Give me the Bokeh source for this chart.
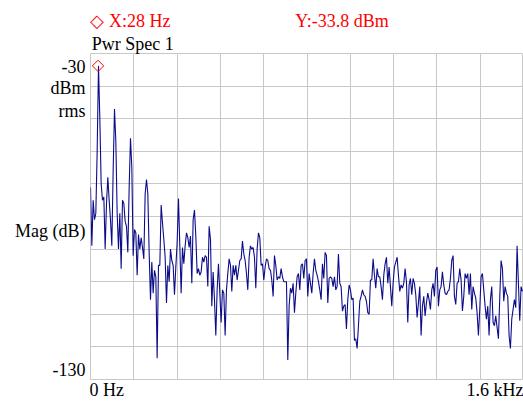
import numpy as np
from bokeh.plotting import figure
from bokeh.models import Range1d, Grid, FixedTicker, LinearAxis
from bokeh.embed import file_html
from bokeh.resources import INLINE

# ---- data ----
mag_dbm = [
    -71, -89, -75, -81, -79, -60, -33.8, -50, -70, -75,
    -74, -90, -76, -68, -75, -81, -89, -66, -47, -57,
    -79, -90, -79, -96, -75, -76, -81.5, -83, -91, -71,
    -56, -65, -92, -84, -85, -98, -85.5, -90, -86.5, -89.5,
    -93, -73, -68.7, -73, -91, -105.5, -94, -103.5, -96.5, -98.5,
    -123.5, -95, -95, -76.5, -82, -87, -92.5, -106.5, -95, -100,
    -90, -93.5, -95, -104, -95.5, -88, -74.5, -89, -103.5, -89.5,
    -94.5, -89, -85, -86.5, -89.5, -86, -100.5, -81, -78, -86,
    -97.5, -96, -98, -97, -92.5, -94, -92, -92.5, -101.5, -83,
    -87, -107.5, -97, -105.5, -116.5, -102.5, -94.5, -103.5, -112.5, -102.5,
    -103.5, -116.5, -102.5, -97.5, -93, -95, -103, -95, -98, -95,
    -99.5, -96.5, -93.5, -93, -87.5, -91.5, -93.5, -97.5, -102.5, -92.5,
    -89, -90, -89.5, -92.5, -102, -90, -85, -86.5, -95, -94.5,
    -99.5, -95.5, -93, -93.5, -96, -96.5, -99.5, -104.5, -92, -95,
    -99.5, -98.5, -99, -96, -98.5, -100, -100, -100, -124, -107.5,
    -102, -103.5, -100.5, -109.5, -103.5, -98.5, -97.5, -102.5, -95, -94.5,
    -99, -93.5, -93, -104.5, -97.5, -100.5, -103.5, -97.5, -93, -96.5,
    -98, -100, -102.5, -105.5, -94.5, -99, -91, -92, -106.5, -99,
    -98.5, -99, -101.5, -98.5, -102.5, -101.5, -91.5, -100.5, -101.5, -109,
    -107.5, -107, -114.5, -105.5, -101, -102.5, -105.5, -105, -118, -117.5,
    -120.5, -113.5, -106, -104.5, -102.5, -104, -104.5, -106, -109.5, -110,
    -99.5, -99.5, -93, -98, -102, -96, -98.5, -98.5, -101.5, -105.5,
    -98, -94.5, -92.5, -100.5, -95.5, -101.5, -107.5, -100.5, -95.5, -94,
    -92.5, -98, -103, -101, -102, -100.5, -96, -100, -112.5, -101,
    -99, -104, -99, -100.5, -104, -111, -106.5, -101.5, -116.5, -107.5,
    -104.5, -110.5, -106.5, -103.5, -105.5, -108.5, -102.5, -100.5, -104.5, -96.5,
    -95.5, -107.5, -102.5, -101.5, -97, -101, -103.5, -104, -103, -102.5,
    -99, -93.5, -92, -104.5, -107, -100.5, -100, -96, -99.5, -109,
    -104.5, -97.5, -99, -97.5, -104, -97.5, -108.5, -101.5, -103.5, -105,
    -109.5, -116.5, -108.5, -98.5, -97.5, -102.5, -107.5, -111.5, -107.5, -116.5,
    -105.5, -101.5, -112.5, -113.5, -110.5, -114, -117.5, -105, -93.5, -96,
    -106, -101.5, -103.5, -104.5, -116.5, -120.5, -111.5, -108.5, -105.5, -108,
    -89, -100.5, -112, -101.5, -103,
]
f_start_hz = 0
f_last_hz = 1596
freq_hz = np.linspace(f_start_hz, f_last_hz, len(mag_dbm))

x_min, x_max = 0, 1600
y_min, y_max = -130, -30
x_grid = [0, 160, 320, 480, 640, 800, 960, 1120, 1280, 1440, 1600]
y_grid = [-130, -120, -110, -100, -90, -80, -70, -60, -50, -40, -30]

marker_x = 28
marker_y = -33.8
marker_symbol = "\u25c7"
marker_x_text = "X:28  Hz"
marker_y_text = "Y:-33.8 dBm"
trace_name = "Pwr Spec 1"
y_labels = ["-30", "dBm", "rms", "Mag (dB)", "-130"]
x_labels = ["0  Hz", "1.6 kHz"]

# ---- layout ----
W, H = 523, 402
BL, BT, BB = 90, 53, 22
frame_w = W - BL
frame_h = H - BT - BB
FONT = "Liberation Serif"
FS = "18px"

p = figure(width=W, height=H, output_backend="svg", toolbar_location=None,
           x_axis_location=None, y_axis_location=None, title=None,
           x_range=Range1d(x_min, x_max), y_range=Range1d(y_min, y_max),
           min_border_left=BL, min_border_top=BT, min_border_bottom=BB,
           min_border_right=0)
p.xgrid.visible = False
p.ygrid.visible = False
p.background_fill_color = "white"
p.border_fill_color = "white"
p.outline_line_color = "#c8c8c8"

p.add_layout(Grid(dimension=0, ticker=FixedTicker(ticks=x_grid),
                  grid_line_color="#c8c8c8", grid_line_width=1))
p.add_layout(Grid(dimension=1, ticker=FixedTicker(ticks=y_grid),
                  grid_line_color="#c8c8c8", grid_line_width=1))

p.line(freq_hz, mag_dbm, line_color="#0c0c8a", line_width=1.1)
p.scatter([marker_x], [marker_y], marker="square", angle=np.pi / 4, size=8,
          fill_color=None, line_color="red", line_width=1)

# image-pixel -> data helpers (frame: left px BL, bottom px BT+frame_h)
def dx(px):
    return round((px - BL) * (x_max - x_min) / frame_w + x_min, 1)

def dy(py):
    return round(y_min + ((BT + frame_h) - py) * (y_max - y_min) / frame_h, 1)

def text_axis(side, ticks, labels, color="black", standoff=0):
    ax = LinearAxis(ticker=FixedTicker(ticks=ticks),
                    major_label_overrides=dict(zip(ticks, labels)),
                    axis_line_color=None, major_tick_line_color=None,
                    major_tick_out=0, major_tick_in=0,
                    minor_tick_line_color=None, minor_tick_out=0, minor_tick_in=0,
                    major_label_standoff=standoff,
                    major_label_text_font=FONT, major_label_text_font_size=FS,
                    major_label_text_color=color)
    p.add_layout(ax, side)
    return ax

# left: limit labels, units and axis name (centres in picture px)
text_axis("left", [dy(66.5), dy(88), dy(111), dy(231), dy(370.5)], y_labels, standoff=5)
# below: frequency span labels
text_axis("below", [dx(108.5), dx(495)], x_labels, standoff=0)
# above (inner): trace name
text_axis("above", [dx(132.2)], [trace_name], standoff=0)
# above (outer): marker readout
text_axis("above", [dx(96), dx(141.5), dx(341.5)],
          [marker_symbol, marker_x_text, marker_y_text], color="red", standoff=0)

open("out.html", "w").write(file_html(p, INLINE))
